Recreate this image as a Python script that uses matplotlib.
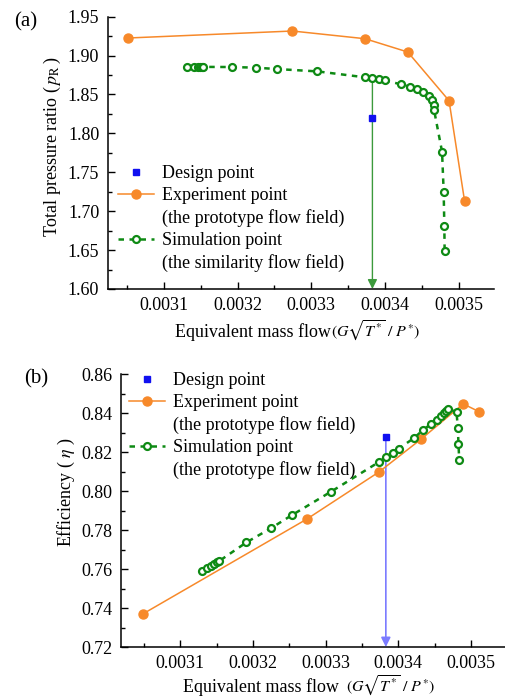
import matplotlib
matplotlib.use("Agg")
import matplotlib.pyplot as plt
from matplotlib.lines import Line2D
from matplotlib.ticker import MultipleLocator, FormatStrFormatter

# ---------------- data ----------------
# (a) total pressure ratio
exp_flow_a = [0.003051, 0.0032745, 0.003373, 0.003431, 0.003487, 0.003508]
exp_pr = [1.9226, 1.9316, 1.9217, 1.9046, 1.842, 1.7135]

sim_flow_a = [0.0031317, 0.0031407, 0.0031461, 0.0031488, 0.0031515, 0.0031533,
              0.0031922, 0.0032247, 0.0032537, 0.0033084, 0.003373, 0.003383,
              0.003392, 0.0033997, 0.0034214, 0.0034336, 0.003443, 0.0034518,
              0.0034599, 0.0034634, 0.0034661, 0.0034666, 0.0034775, 0.0034797,
              0.0034806, 0.003481]
sim_pr = [1.8853, 1.8853, 1.8853, 1.8855, 1.8855, 1.8855,
          1.8853, 1.8845, 1.8827, 1.8797, 1.8721, 1.8716,
          1.8699, 1.8682, 1.8631, 1.8600, 1.8570, 1.8532,
          1.8480, 1.8429, 1.8365, 1.8304, 1.7765, 1.7250,
          1.6810, 1.6492]

design_flow_a = 0.003382
design_pr = 1.82

# (b) efficiency
exp_flow_b = [0.0030487, 0.0032744, 0.0033737, 0.0034318, 0.0034895, 0.0035114]
exp_eff = [0.737, 0.7857, 0.8099, 0.8268, 0.8448, 0.8408]

sim_flow_b = [0.0031297, 0.0031375, 0.003143, 0.0031467, 0.0031503, 0.0031531,
              0.0031911, 0.0032245, 0.0032533, 0.0033078, 0.0033737, 0.0033838,
              0.0033929, 0.0034007, 0.0034222, 0.0034335, 0.0034451, 0.0034529,
              0.0034588, 0.0034629, 0.0034661, 0.003468, 0.0034803, 0.0034821,
              0.003483, 0.003484]
sim_eff = [0.7590, 0.7606, 0.7618, 0.7626, 0.7635, 0.7640,
           0.7737, 0.7809, 0.7876, 0.7998, 0.8150, 0.8177,
           0.8198, 0.8218, 0.8274, 0.8312, 0.8345, 0.8364,
           0.8385, 0.8400, 0.8414, 0.8424, 0.8406, 0.8323,
           0.8240, 0.8160]

design_flow_b = 0.003383
design_eff = 0.828

xticks = [0.0031, 0.0032, 0.0033, 0.0034, 0.0035]
yticks_a = [1.60, 1.65, 1.70, 1.75, 1.80, 1.85, 1.90, 1.95]
yticks_b = [0.72, 0.74, 0.76, 0.78, 0.80, 0.82, 0.84, 0.86]

# ---------------- style ----------------
plt.rcParams['font.family'] = ['Liberation Serif', 'DejaVu Serif']
plt.rcParams['mathtext.fontset'] = 'stix'
FS = 13
MFS = 11.5
ORANGE = '#F7892A'
GREEN = '#0E8A14'
BLUE = '#1010F0'
MATH = r'$(G\sqrt{T^{*}}\ /\ P^{*})$'

fig = plt.figure(figsize=(5.05, 6.99), dpi=100)
ax1 = fig.add_axes([107.5 / 505, 1 - 289 / 699, (494 - 107.5) / 505, (289 - 16.7) / 699])
ax2 = fig.add_axes([121 / 505, 1 - 647 / 699, (505 - 121) / 505, (647 - 374.3) / 699])


def style(ax, ylim, yticks, ymin):
    for s in ['top', 'right']:
        ax.spines[s].set_visible(False)
    for s in ['left', 'bottom']:
        ax.spines[s].set_linewidth(1.1)
    ax.set_xticks(xticks)
    ax.set_yticks(yticks)
    ax.set_ylim(*ylim)
    ax.xaxis.set_major_formatter(FormatStrFormatter('%.4f'))
    ax.yaxis.set_major_formatter(FormatStrFormatter('%.2f'))
    ax.xaxis.set_minor_locator(MultipleLocator(0.00005))
    ax.yaxis.set_minor_locator(MultipleLocator(ymin))
    ax.tick_params(which='both', direction='in', labelsize=FS, width=1.0)
    ax.tick_params(which='major', length=5, pad=6)
    ax.tick_params(which='minor', length=3)


def xlabel(ax, x, y, gap):
    t = ax.text(x, y, 'Equivalent mass flow', fontsize=FS, ha='left', va='baseline',
                transform=ax.transAxes, clip_on=False)
    ax.annotate(MATH, xy=(1, 0), xycoords=t, xytext=(gap, -1.2), textcoords='offset points',
                fontsize=MFS, ha='left', va='bottom', annotation_clip=False)


# ---- panel (a) ----
ax = ax1
ax.set_xlim(0.0030235, 0.003548)
style(ax, (1.60, 1.95), yticks_a, 0.025)
ax.annotate('', xy=(design_flow_a + 0.000001, 1.60), xytext=(design_flow_a + 0.000001, sim_pr[11]),
            arrowprops=dict(arrowstyle='-|>', color='#3C9A3C', lw=1.0, mutation_scale=14,
                            shrinkA=0, shrinkB=0), zorder=2)
hd, = ax.plot([design_flow_a], [design_pr], 's', color=BLUE, ms=5, zorder=4)
he, = ax.plot(exp_flow_a, exp_pr, '-o', color=ORANGE, lw=1.1, ms=6.5, zorder=3)
hs, = ax.plot(sim_flow_a, sim_pr, '--o', color=GREEN, lw=1.8, ms=5, mfc='white',
              mew=1.6, dashes=(2.2, 2.2), zorder=3)
blank = Line2D([], [], linestyle='none')
ax.legend([hd, he, blank, hs, blank],
          ['Design point', 'Experiment point', '(the prototype flow field)',
           'Simulation point', '(the similarity flow field)'],
          loc='upper left', bbox_to_anchor=(0.027, 0.455), frameon=False,
          fontsize=FS, handlelength=2.0, handletextpad=0.45, labelspacing=0.28,
          borderpad=0, borderaxespad=0)
xlabel(ax, 0.1746, -0.178, 0.3)
ax.set_ylabel(r'Total pressure ratio ($\,p_{\rm R}\,$)', fontsize=FS, va='center')
ax.yaxis.set_label_coords(-0.142, 0.523)

# ---- panel (b) ----
ax = ax2
ax.set_xlim(0.0030185, 0.003547)
style(ax, (0.72, 0.86), yticks_b, 0.01)
ax.annotate('', xy=(design_flow_b, 0.72), xytext=(design_flow_b, design_eff),
            arrowprops=dict(arrowstyle='-|>', color='#7B7BFF', lw=1.2, mutation_scale=14,
                            shrinkA=0, shrinkB=0), zorder=2)
hd2, = ax.plot([design_flow_b], [design_eff], 's', color=BLUE, ms=5, zorder=4)
he2, = ax.plot(exp_flow_b, exp_eff, '-o', color=ORANGE, lw=1.1, ms=6.5, zorder=3)
hs2, = ax.plot(sim_flow_b, sim_eff, '--o', color=GREEN, lw=1.8, ms=5, mfc='white',
               mew=1.6, dashes=(2.2, 2.2), zorder=3)
ax.legend([hd2, he2, blank, hs2, blank],
          ['Design point', 'Experiment point', '(the prototype flow field)',
           'Simulation point', '(the prototype flow field)'],
          loc='upper left', bbox_to_anchor=(0.021, 1.007), frameon=False,
          fontsize=FS, handlelength=2.0, handletextpad=0.45, labelspacing=0.28,
          borderpad=0, borderaxespad=0)
xlabel(ax, 0.1615, -0.165, 5)
ax.set_ylabel(r'Efficiency ( $\eta$ )', fontsize=FS, va='center')
ax.yaxis.set_label_coords(-0.143, 0.57)

fig.text(0.051, 0.9685, '(a)', fontsize=15, ha='center', va='center')
fig.text(0.071, 0.458, '(b)', fontsize=15, ha='center', va='center')

fig.savefig('out.png', dpi=100)
